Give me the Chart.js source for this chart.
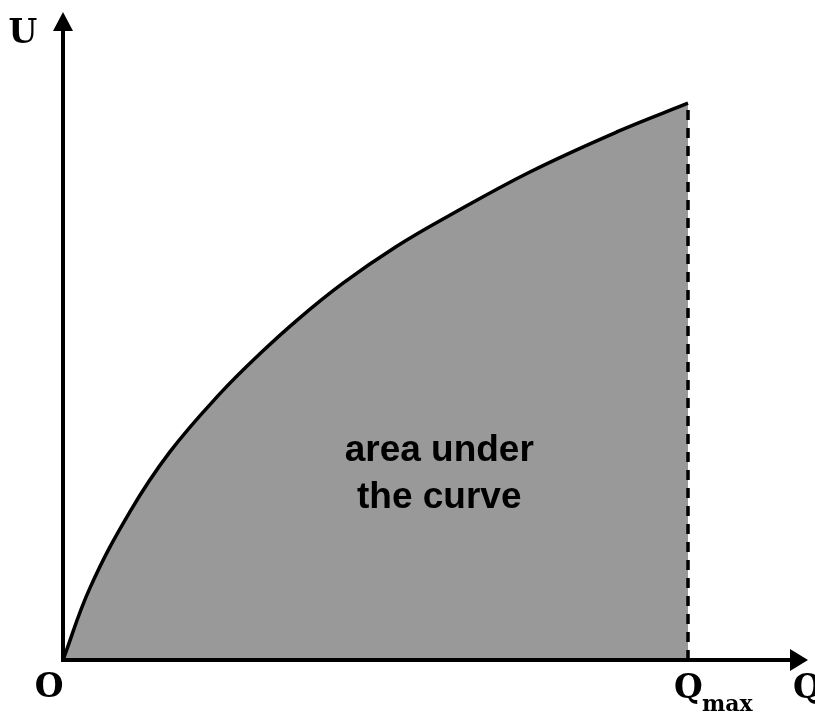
<!DOCTYPE html>
<html>
<head>
<meta charset="utf-8">
<script src="https://cdn.jsdelivr.net/npm/chart.js@4"></script>
<style>
  body { margin: 0; background: #fff; }
  canvas { display: block; }
</style>
</head>
<body>
<canvas id="c" width="815" height="713"></canvas>
<script>
// charge Q (arbitrary units, Qmax = 10) and potential U
const qValues = [0, 0.43, 1.07, 1.71, 2.5, 3.15, 3.77, 4.48, 5.34, 6.16, 7.47, 8.86, 10];
const uValues = [0, 1.15, 2.37, 3.33, 4.25, 4.90, 5.46, 6.03, 6.62, 7.10, 7.81, 8.45, 8.91];
const qMax = 10;
const areaLabel = ['area under', 'the curve'];
const areaLabelAt = {x: 6.02, y: 2.97};

const curve = qValues.map((q, i) => ({x: q, y: uValues[i]}));
const uAtMax = uValues[uValues.length - 1];

const axesAndLabels = {
  id: 'axesAndLabels',
  afterDatasetsDraw(chart) {
    const c = chart.ctx;
    const xs = chart.scales.x, ys = chart.scales.y;
    const x0 = xs.getPixelForValue(0), y0 = ys.getPixelForValue(0);
    const top = chart.chartArea.top, right = chart.chartArea.right;
    c.save();
    // axes
    c.strokeStyle = '#000';
    c.fillStyle = '#000';
    c.lineWidth = 4;
    c.beginPath();
    c.moveTo(x0, y0 + 2);
    c.lineTo(x0, top + 14);
    c.moveTo(x0 - 2, y0);
    c.lineTo(right - 14, y0);
    c.stroke();
    // arrow heads
    c.beginPath();
    c.moveTo(x0, top);
    c.lineTo(x0 - 10, top + 19);
    c.lineTo(x0 + 10, top + 19);
    c.closePath();
    c.fill();
    c.beginPath();
    c.moveTo(right, y0);
    c.lineTo(right - 18, y0 - 11);
    c.lineTo(right - 18, y0 + 11);
    c.closePath();
    c.fill();

    // area text
    c.font = 'bold 37px "Liberation Sans", Arial, sans-serif';
    c.textAlign = 'center';
    c.textBaseline = 'middle';
    const tx = xs.getPixelForValue(areaLabelAt.x), ty = ys.getPixelForValue(areaLabelAt.y);
    c.fillText(areaLabel[0], tx, ty - 24);
    c.fillText(areaLabel[1], tx, ty + 23);

    // axis labels
    c.textBaseline = 'alphabetic';
    c.font = 'bold 33px "DejaVu Serif", serif';
    c.fillText('U', x0 - 40, top + 31);
    c.fillText('O', x0 - 14, y0 + 37);
    const xm = xs.getPixelForValue(qMax);
    c.textAlign = 'left';
    c.fillText('Q', xm - 14, y0 + 38);
    c.fillText('Q', right - 15, y0 + 38);
    c.font = 'bold 22px "DejaVu Serif", serif';
    c.fillText('max', xm + 14, y0 + 51);
    c.restore();
  }
};

new Chart(document.getElementById('c'), {
  type: 'line',
  data: {
    datasets: [{
      // dashed drop line at Qmax, first so it is drawn over the fill
      data: [{x: qMax, y: 0}, {x: qMax, y: uAtMax}],
      borderColor: '#000',
      borderWidth: 3.5,
      borderDash: [10, 8],
      fill: false,
      pointRadius: 0
    }, {
      data: curve,
      borderColor: '#000',
      borderWidth: 3.5,
      backgroundColor: '#999999',
      fill: 'origin',
      pointRadius: 0,
      tension: 0.4
    }]
  },
  options: {
    responsive: false,
    animation: false,
    layout: { padding: {left: 63, top: 12, right: 7, bottom: 53} },
    plugins: { legend: { display: false }, tooltip: { enabled: false } },
    scales: {
      x: { type: 'linear', min: 0, max: 11.92, display: false },
      y: { type: 'linear', min: 0, max: 10.37, display: false }
    }
  },
  plugins: [axesAndLabels]
});
</script>
</body>
</html>
